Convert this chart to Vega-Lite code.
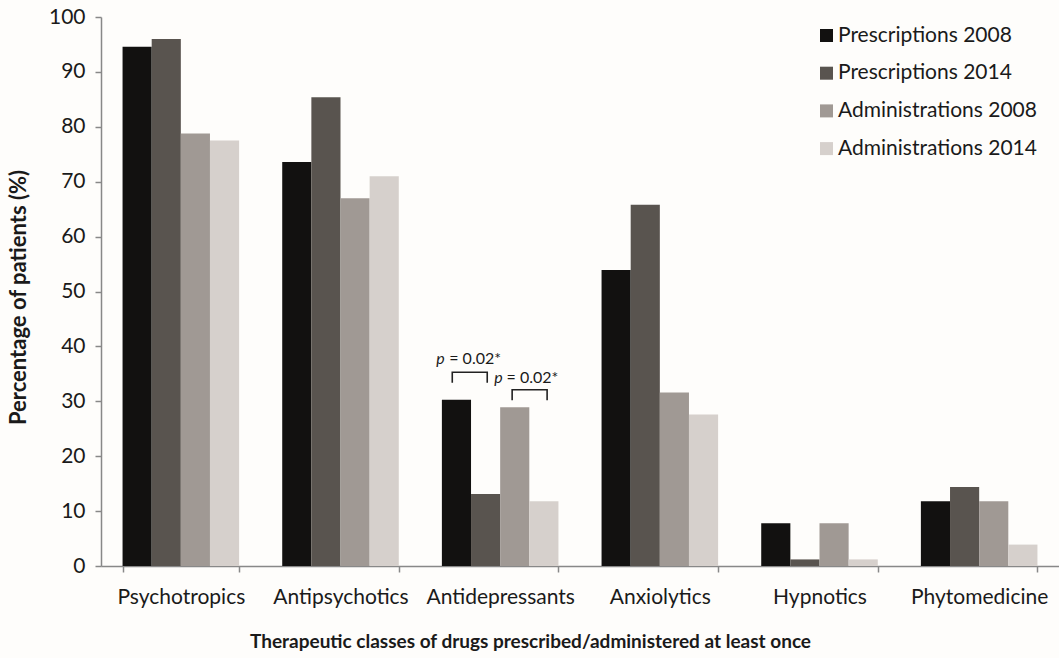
{
  "$schema": "https://vega.github.io/schema/vega-lite/v6.json",
  "width": 958,
  "height": 549,
  "autosize": {"type": "none"},
  "padding": {"left": 101, "top": 17, "right": 0, "bottom": 92},
  "background": "#fefdfb",
  "config": {"font": "Lato", "view": {"stroke": null}},
  "datasets": {
    "bars": [
      {"class": "Psychotropics", "series": "Prescriptions 2008", "pct": 94.6},
      {"class": "Psychotropics", "series": "Prescriptions 2014", "pct": 96.0},
      {"class": "Psychotropics", "series": "Administrations 2008", "pct": 78.8},
      {"class": "Psychotropics", "series": "Administrations 2014", "pct": 77.5},
      {"class": "Antipsychotics", "series": "Prescriptions 2008", "pct": 73.6},
      {"class": "Antipsychotics", "series": "Prescriptions 2014", "pct": 85.4},
      {"class": "Antipsychotics", "series": "Administrations 2008", "pct": 67.0},
      {"class": "Antipsychotics", "series": "Administrations 2014", "pct": 71.0},
      {"class": "Antidepressants", "series": "Prescriptions 2008", "pct": 30.3},
      {"class": "Antidepressants", "series": "Prescriptions 2014", "pct": 13.1},
      {"class": "Antidepressants", "series": "Administrations 2008", "pct": 28.9},
      {"class": "Antidepressants", "series": "Administrations 2014", "pct": 11.8},
      {"class": "Anxiolytics", "series": "Prescriptions 2008", "pct": 53.9},
      {"class": "Anxiolytics", "series": "Prescriptions 2014", "pct": 65.8},
      {"class": "Anxiolytics", "series": "Administrations 2008", "pct": 31.6},
      {"class": "Anxiolytics", "series": "Administrations 2014", "pct": 27.6},
      {"class": "Hypnotics", "series": "Prescriptions 2008", "pct": 7.8},
      {"class": "Hypnotics", "series": "Prescriptions 2014", "pct": 1.2},
      {"class": "Hypnotics", "series": "Administrations 2008", "pct": 7.8},
      {"class": "Hypnotics", "series": "Administrations 2014", "pct": 1.2},
      {"class": "Phytomedicine", "series": "Prescriptions 2008", "pct": 11.8},
      {"class": "Phytomedicine", "series": "Prescriptions 2014", "pct": 14.4},
      {"class": "Phytomedicine", "series": "Administrations 2008", "pct": 11.8},
      {"class": "Phytomedicine", "series": "Administrations 2014", "pct": 3.9}
    ],
    "brackets": [
      {"id": 1, "k": 1, "x": 2.2, "y": 33.4},
      {"id": 1, "k": 2, "x": 2.2, "y": 35.3},
      {"id": 1, "k": 3, "x": 2.419, "y": 35.3},
      {"id": 1, "k": 4, "x": 2.419, "y": 33.4},
      {"id": 2, "k": 1, "x": 2.575, "y": 30.2},
      {"id": 2, "k": 2, "x": 2.575, "y": 32.1},
      {"id": 2, "k": 3, "x": 2.794, "y": 32.1},
      {"id": 2, "k": 4, "x": 2.794, "y": 30.2}
    ],
    "notes": [
      {"id": 1, "xp": 2.153, "xr": 2.181, "y": 37.7, "p": "p", "rest": "= 0.02*"},
      {"id": 2, "xp": 2.516, "xr": 2.54, "y": 34.3, "p": "p", "rest": "= 0.02*"}
    ]
  },
  "layer": [
    {
      "data": {"name": "bars"},
      "mark": {"type": "bar"},
      "encoding": {
        "x": {
          "field": "class",
          "type": "nominal",
          "sort": null,
          "scale": {"paddingInner": 0.27, "paddingOuter": 0.135},
          "axis": {
            "title": "Therapeutic classes of drugs prescribed/administered at least once",
            "titleFontSize": 19,
            "titleFontWeight": "bold",
            "titleColor": "#1a1a1a",
            "titleX": 429,
            "titleY": 75,
            "titleAlign": "center",
            "titleBaseline": "middle",
            "labelAngle": 0,
            "labelFontSize": 21,
            "labelColor": "#1a1a1a",
            "labelPadding": 14,
            "labelLimit": 300,
            "tickSize": 6,
            "tickBand": "extent",
            "tickColor": "#888888",
            "domainColor": "#888888",
            "domainWidth": 1.5,
            "tickWidth": 1.5
          }
        },
        "xOffset": {
          "field": "series",
          "type": "nominal",
          "sort": ["Prescriptions 2008", "Prescriptions 2014", "Administrations 2008", "Administrations 2014"]
        },
        "y": {
          "field": "pct",
          "type": "quantitative",
          "scale": {"domain": [0, 100], "nice": false},
          "axis": {
            "title": "Percentage  of patients (%)",
            "titleFontSize": 22,
            "titleFontWeight": "bold",
            "titleColor": "#1a1a1a",
            "titleX": -83,
            "titleY": 280,
            "titleAngle": -90,
            "titleAlign": "center",
            "titleBaseline": "middle",
            "values": [0, 10, 20, 30, 40, 50, 60, 70, 80, 90, 100],
            "grid": false,
            "labelFontSize": 21,
            "labelColor": "#1a1a1a",
            "labelPadding": 10,
            "tickSize": 6,
            "tickColor": "#888888",
            "domainColor": "#888888",
            "domainWidth": 1.5,
            "tickWidth": 1.5
          }
        },
        "color": {
          "field": "series",
          "type": "nominal",
          "sort": ["Prescriptions 2008", "Prescriptions 2014", "Administrations 2008", "Administrations 2014"],
          "scale": {"range": ["#121110", "#59544f", "#a09994", "#d6d0cc"]},
          "legend": {
            "title": null,
            "orient": "none",
            "legendX": 715,
            "legendY": 8,
            "padding": 0,
            "symbolType": "square",
            "symbolSize": 169,
            "symbolStrokeWidth": 0,
            "labelFontSize": 21,
            "labelLimit": 400,
            "labelColor": "#1a1a1a",
            "labelOffset": 1,
            "rowPadding": 15.7
          }
        }
      }
    },
    {
      "data": {"name": "brackets"},
      "mark": {"type": "line", "color": "#222222", "strokeWidth": 1.6},
      "encoding": {
        "x": {"field": "x", "type": "quantitative", "scale": {"domain": [0, 6], "nice": false, "zero": false}, "axis": null},
        "y": {"field": "y", "type": "quantitative"},
        "detail": {"field": "id"},
        "order": {"field": "k"}
      }
    },
    {
      "data": {"name": "notes"},
      "mark": {"type": "text", "fontStyle": "italic", "fontSize": 16, "align": "right", "baseline": "middle", "color": "#1a1a1a"},
      "encoding": {
        "x": {"field": "xp", "type": "quantitative", "scale": {"domain": [0, 6], "nice": false, "zero": false}, "axis": null},
        "y": {"field": "y", "type": "quantitative"},
        "text": {"field": "p"}
      }
    },
    {
      "data": {"name": "notes"},
      "mark": {"type": "text", "fontSize": 16, "align": "left", "baseline": "middle", "color": "#1a1a1a"},
      "encoding": {
        "x": {"field": "xr", "type": "quantitative", "scale": {"domain": [0, 6], "nice": false, "zero": false}, "axis": null},
        "y": {"field": "y", "type": "quantitative"},
        "text": {"field": "rest"}
      }
    }
  ],
  "resolve": {"scale": {"x": "independent"}}
}
